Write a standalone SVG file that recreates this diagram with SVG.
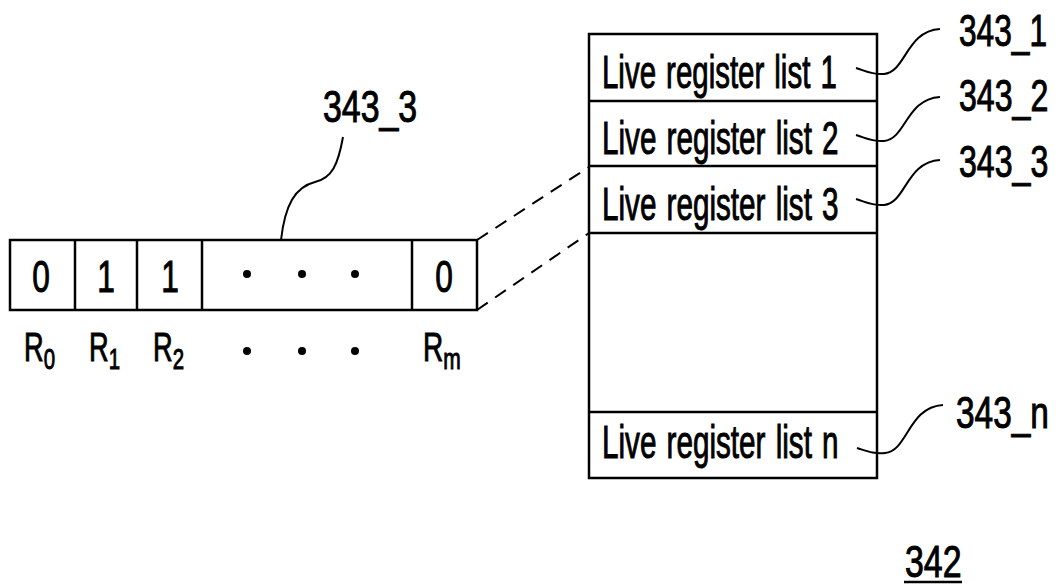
<svg xmlns="http://www.w3.org/2000/svg" width="1061" height="586" viewBox="0 0 1061 586">
<style>
.box{fill:none;stroke:#000;stroke-width:2.5}
.ln{fill:none;stroke:#000;stroke-width:2.5}
.ld{fill:none;stroke:#000;stroke-width:2}
.dash{fill:none;stroke:#000;stroke-width:2;stroke-dasharray:13,9}
text{font-family:"Liberation Sans",Arial,sans-serif;fill:#000;stroke:#000;stroke-width:1}
.big{font-size:44px;text-anchor:middle}
.row{font-size:46px;word-spacing:3px}
.lbl{font-size:44px}
.r{font-size:40px}
.sub{font-size:30px}
</style>
<rect width="1061" height="586" fill="#fff"/>
<g id="register-array">
<rect class="box" x="10" y="240" width="467" height="70"/>
<line class="ln" x1="75" y1="240" x2="75" y2="310"/>
<line class="ln" x1="137" y1="240" x2="137" y2="310"/>
<line class="ln" x1="202" y1="240" x2="202" y2="310"/>
<line class="ln" x1="412" y1="240" x2="412" y2="310"/>
<text class="big" transform="translate(41,292) scale(0.72,1)">0</text>
<text class="big" transform="translate(106,292) scale(0.72,1)">1</text>
<text class="big" transform="translate(170,292) scale(0.72,1)">1</text>
<text class="big" transform="translate(444,292) scale(0.72,1)">0</text>
<circle cx="247" cy="274" r="4"/>
<circle cx="302" cy="274" r="4"/>
<circle cx="355" cy="274" r="4"/>
</g>
<g id="register-labels">
<text class="r" transform="translate(24,361) scale(0.68,1)">R<tspan class="sub" dy="8">0</tspan></text>
<text class="r" transform="translate(89,361) scale(0.68,1)">R<tspan class="sub" dy="8">1</tspan></text>
<text class="r" transform="translate(153,361) scale(0.68,1)">R<tspan class="sub" dy="8">2</tspan></text>
<circle cx="247" cy="351" r="4"/>
<circle cx="302" cy="351" r="4"/>
<circle cx="355" cy="351" r="4"/>
<text class="r" transform="translate(423,361) scale(0.7,1)">R<tspan class="sub" dy="8">m</tspan></text>
</g>
<g id="label-343_3-left">
<text class="lbl" transform="translate(323,122) scale(0.77,1)">343_3</text>
</g>
<g id="live-register-table">
<rect class="box" x="589" y="34" width="288" height="444"/>
<line class="ln" x1="589" y1="101" x2="877" y2="101"/>
<line class="ln" x1="589" y1="166" x2="877" y2="166"/>
<line class="ln" x1="589" y1="233" x2="877" y2="233"/>
<line class="ln" x1="589" y1="412" x2="877" y2="412"/>
<text class="row" transform="translate(602,88) scale(0.64,1)">Live register list 1</text>
<text class="row" transform="translate(602,154) scale(0.645,1)">Live register list 2</text>
<text class="row" transform="translate(602,220) scale(0.645,1)">Live register list 3</text>
<text class="row" transform="translate(602,458) scale(0.645,1)">Live register list n</text>
</g>
<g id="label-343_1"><text class="lbl" transform="translate(959,46) scale(0.72,1)">343_1</text></g>
<g id="label-343_2"><text class="lbl" transform="translate(959,111) scale(0.73,1)">343_2</text></g>
<g id="label-343_3"><text class="lbl" transform="translate(959,177) scale(0.73,1)">343_3</text></g>
<g id="label-343_n"><text class="lbl" transform="translate(956,428) scale(0.76,1)">343_n</text></g>
<g id="label-342">
<text class="lbl" transform="translate(905,577) scale(0.77,1)">342</text>
<line x1="904" y1="582" x2="962" y2="582" stroke="#000" stroke-width="2.5"/>
</g>
<g id="connectors">
<line class="dash" x1="477" y1="240" x2="589" y2="167"/>
<line class="dash" x1="477" y1="310" x2="589" y2="233"/>
<path class="ld" d="M343,137 C338,165 332,178 315,182 C295,187 285,205 281,240"/>
<path class="ld" d="M856,68 C866,71 872,75 884,74 C906,72 906,31 940,29"/>
<path class="ld" d="M856,135 C866,138 872,142 884,141 C906,139 906,99 940,97"/>
<path class="ld" d="M856,199 C866,202 872,206 884,205 C906,203 906,162 940,160"/>
<path class="ld" d="M857,448 C867,451 873,454 885,453 C908,451 908,407 943,405"/>
</g>
</svg>
